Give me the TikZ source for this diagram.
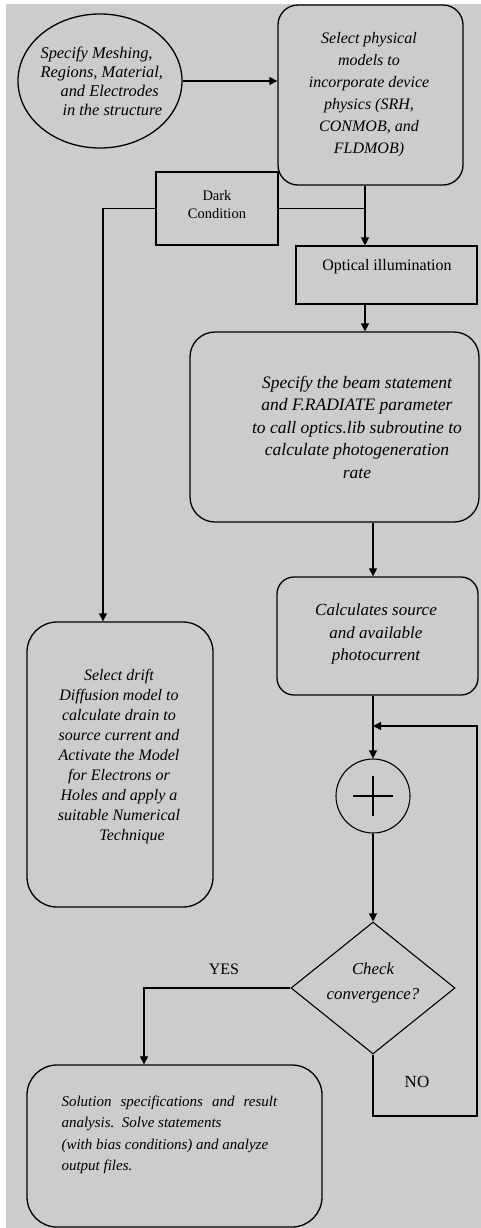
\documentclass[tikz,border=0pt]{standalone}
\usepackage{fontspec}
\setmainfont{Liberation Serif}
\usetikzlibrary{shapes.geometric,arrows.meta}
\definecolor{bg}{RGB}{204,204,204}
\begin{document}
\begin{tikzpicture}[x=1pt,y=-1pt,
  line width=1.1pt,
  arr/.style={-{Triangle[length=8pt,width=8pt]}},
  rbox/.style={draw, line width=1.3pt, inner sep=0pt},
  sbox/.style={draw, line width=1.1pt, inner sep=0pt},
  it/.style={align=center, inner sep=0pt},
  up/.style={font=\fontsize{16}{18}\selectfont, align=center, inner sep=0pt},
]
\useasboundingbox (0,0) rectangle (481,1228);
\fill[white] (0,0) rectangle (481,1228);
\fill[bg] (6,4) rectangle (481,1228);

% shapes
\node[draw, ellipse, line width=1.3pt, minimum width=164pt, minimum height=134pt, inner sep=0pt] (ell) at (100,81) {};
\node[rbox, rounded corners=20pt, minimum width=185pt, minimum height=180pt] (b1) at (370.5,95) {};
\node[sbox, minimum width=122pt, minimum height=73pt] (dark) at (217,208.5) {};
\node[sbox, minimum width=181pt, minimum height=58pt] (opt) at (386.5,275) {};
\node[rbox, rounded corners=25pt, minimum width=289pt, minimum height=190pt] (b3) at (334.5,427) {};
\node[rbox, rounded corners=17pt, minimum width=201pt, minimum height=118pt] (b4) at (377.5,636) {};
\node[rbox, rounded corners=30pt, minimum width=186pt, minimum height=285pt] (b5) at (120,764.5) {};
\node[draw, circle, line width=1.1pt, minimum size=74pt, inner sep=0pt] (sum) at (373,796) {};
\node[draw, diamond, line width=1.1pt, minimum width=164pt, minimum height=132pt, inner sep=0pt] (dia) at (373,988) {};
\node[rbox, rounded corners=30pt, minimum width=295pt, minimum height=162pt] (b6) at (174.5,1146) {};

% texts
\node[it, align=left, anchor=west, font=\fontsize{16.4}{19}\selectfont\itshape] (tell) at (40,81) {Specify Meshing,\\Regions, Material,\\\hspace*{20pt}and Electrodes\\\hspace*{22pt}in the structure};
\node[it, font=\fontsize{16}{22}\selectfont\itshape] (tb1) at (369,95) {Select physical\\models to\\incorporate device\\physics (SRH,\\CONMOB, and\\FLDMOB)};
\node[up, font=\fontsize{14.5}{18}\selectfont] (tdark) at (217,205) {Dark\\Condition};
\node[up] (topt) at (387,267) {Optical illumination};
\node[it, font=\fontsize{17.5}{22.5}\selectfont\itshape] (tb3) at (357,427) {Specify the beam statement\\and F.RADIATE parameter\\to call optics.lib subroutine to\\calculate photogeneration\\rate};
\node[it, font=\fontsize{17}{22.5}\selectfont\itshape] (tb4) at (376,634) {Calculates source\\and available\\photocurrent};
\node[it, font=\fontsize{16}{20}\selectfont\itshape] (tb5) at (119,757) {Select drift\\Diffusion model to\\calculate drain to\\source current and\\Activate the Model\\for Electrons or\\Holes and apply a\\suitable Numerical\\\hspace*{26pt}Technique};
\node[it, align=left, font=\fontsize{15}{21.5}\selectfont\itshape, anchor=west] (tb6) at (61,1135) {Solution\hspace{9pt}specifications\hspace{9pt}and\hspace{9pt}result\\analysis.\ \ Solve statements\\(with bias conditions) and analyze\\output files.};
\node[it, font=\fontsize{16.8}{25}\selectfont\itshape] (tdia) at (373,983) {Check\\convergence?};
\node[up] (yes) at (224,969) {YES};
\node[up, font=\fontsize{17}{18}\selectfont] (no) at (417,1082) {NO};

% plus sign
\draw (sum.center) ++(-20,0) -- ++(40,0);
\draw (sum.center) ++(0,-20) -- ++(0,40);

% junctions
\coordinate (j1) at (365,212);
\coordinate (jx) at (373,726);
\coordinate (c5) at (103,212);
\coordinate (c6) at (144,990);
\coordinate (cR) at (477,1116);

% connectors
\draw[arr] (ell.east) -- (ell.east -| b1.west);
\draw[arr] (j1 |- b1.south) -- (j1 |- opt.north);
\draw (dark.east) -- (dark.east -| j1);
\draw[arr] (dark.west) -| (c5 |- b5.north);
\draw[arr] (j1 |- opt.south) -- (j1 |- b3.north);
\draw[arr] (jx |- b3.south) -- (jx |- b4.north);
\draw[arr] (jx |- b4.south) -- (sum.north);
\draw[arr] (sum.south) -- (dia.north);
\draw[arr] (dia.west) -| (c6 |- b6.north);
\draw[arr] (dia.south) |- (cR) |- (jx);
\end{tikzpicture}
\end{document}
